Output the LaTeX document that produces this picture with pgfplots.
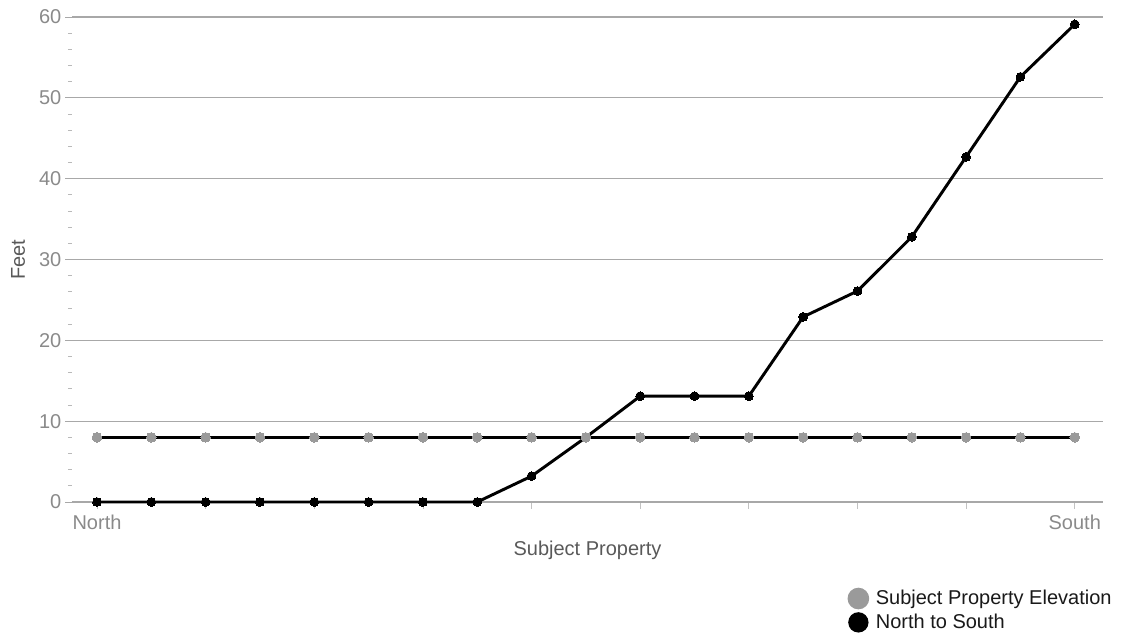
\documentclass[border=0pt]{standalone}
\usepackage{fontspec}
\setmainfont{Liberation Sans}
\usepackage{pgfplots}
\pgfplotsset{compat=1.18}
\definecolor{tickgray}{HTML}{8A8A8A}
\definecolor{gridgray}{HTML}{A8A8A8}
\definecolor{markgray}{HTML}{9A9A9A}
\begin{document}
\begin{tikzpicture}
\path[use as bounding box] (0,0) rectangle (840.75pt,477.75pt);
\begin{axis}[
  at={(54pt,101.25pt)}, anchor=south west,
  scale only axis, width=773.25pt, height=363.75pt,
  xmin=-0.46, xmax=18.52, ymin=0, ymax=60,
  clip=false,
  font=\fontsize{15pt}{18pt}\selectfont,
  /pgf/number format/assume math mode=true,
  axis x line*=bottom, axis y line*=left,
  x axis line style={draw=gridgray, line width=0.9pt, -},
  y axis line style={draw=none},
  xtick={0,2,...,18},
  xticklabels={North,,,,,,,,,South},
  ytick={0,10,...,60},
  minor y tick num=4,
  tick align=outside,
  major tick length=5pt,
  minor tick length=3pt,
  tick style={draw=gridgray, line width=0.7pt},
  minor tick style={draw=gridgray!80, line width=0.6pt},
  x tick style={draw=gridgray!70, line width=0.6pt},
  ymajorgrids,
  major grid style={draw=gridgray, line width=0.9pt},
  ticklabel style={text=tickgray},
  yticklabel style={xshift=0.5pt},
  xticklabel style={yshift=-1pt},
  xlabel={Subject Property},
  ylabel={Feet},
  xlabel style={at={(axis description cs:0.5,-0.099)}, anchor=center, text=black!65},
  ylabel style={at={(axis description cs:-0.0524,0.5)}, anchor=center, text=black!65},
  legend style={at={(axis description cs:0.752,-0.176)}, anchor=north west,
    draw=none, fill=none, text=black!90, row sep=1.5pt,
    font=\fontsize{15pt}{18pt}\selectfont, inner sep=0pt,
    /tikz/every odd column/.append style={column sep=3pt}},
  legend cell align=left,
  reverse legend,
]
\addplot[black, line width=2.2pt, mark=*, mark size=3.3pt,
  mark options={fill=black, draw=black, line width=0pt},
  legend image code/.code={\fill[black] (1.5pt,0pt) circle (6.5pt);}]
  coordinates {
  (0,0) (1,0) (2,0) (3,0) (4,0) (5,0) (6,0) (7,0) (8,3.2) (9,8.0)
  (10,13.1) (11,13.1) (12,13.1) (13,22.9) (14,26.1) (15,32.8)
  (16,42.7) (17,52.6) (18,59.1)};
\addlegendentry{North to South}
\addplot[black, line width=2.2pt, mark=*, mark size=3.6pt,
  mark options={fill=markgray, draw=markgray, line width=0pt},
  legend image code/.code={\fill[markgray] (1.5pt,0pt) circle (7pt);}]
  coordinates {
  (0,8) (1,8) (2,8) (3,8) (4,8) (5,8) (6,8) (7,8) (8,8) (9,8)
  (10,8) (11,8) (12,8) (13,8) (14,8) (15,8) (16,8) (17,8) (18,8)};
\addlegendentry{Subject Property Elevation}
\end{axis}
\end{tikzpicture}
\end{document}
